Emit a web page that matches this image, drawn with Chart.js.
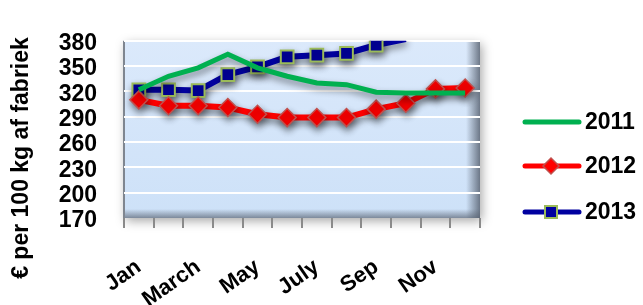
<!DOCTYPE html>
<html>
<head>
<meta charset="utf-8">
<script src="https://cdn.jsdelivr.net/npm/chart.js@4.4.1/dist/chart.umd.min.js"></script>
<style>
  html, body { margin: 0; padding: 0; background: #fff; }
  #wrap { width: 643px; height: 305px; position: relative; }
</style>
</head>
<body>
<div id="wrap"><canvas id="grafiek"></canvas></div>
<script>
// maanden en waarden (gelezen van de grafiek)
const maanden = ['Jan', 'Feb', 'March', 'April', 'May', 'June', 'July', 'Aug', 'Sep', 'Oct', 'Nov', 'Dec'];
const prijs2011 = [322, 338, 348, 364, 348, 338, 330, 328, 319, 318, 318, 318];
const prijs2012 = [310, 303, 303, 301, 293, 289, 289, 289, 299, 306, 323, 324];
const prijs2013 = [322, 322, 321, 340, 349, 361, 363, 365, 375, 382, null, null];
const yTicks = [170, 200, 230, 260, 290, 320, 350, 380];
const yTitel = '€ per 100 kg af fabriek';

const FONT = '"Liberation Sans", Arial, sans-serif';

// achtergrond van het plotvlak met schaduw en rand
const plotAchtergrond = {
    id: 'plotAchtergrond',
    beforeDraw(chart) {
        const { ctx, chartArea: a } = chart;
        const w = a.right - a.left, h = a.bottom - a.top;
        ctx.save();
        // schaduw rond het vlak
        ctx.shadowColor = 'rgba(0,0,0,0.35)';
        ctx.shadowBlur = 10;
        ctx.shadowOffsetX = 2;
        ctx.shadowOffsetY = 3;
        ctx.fillStyle = '#cfe2f8';
        ctx.fillRect(a.left, a.top, w, h);
        ctx.restore();

        ctx.save();
        let g = ctx.createLinearGradient(0, a.top, 0, a.bottom);
        g.addColorStop(0, '#dbe9fb');
        g.addColorStop(1, '#cde1f8');
        ctx.fillStyle = g;
        ctx.fillRect(a.left, a.top, w, h);

        // rechter rand (donker verloop)
        g = ctx.createLinearGradient(a.right - 14, 0, a.right, 0);
        g.addColorStop(0, 'rgba(90,100,115,0)');
        g.addColorStop(1, 'rgba(90,100,115,0.85)');
        ctx.fillStyle = g;
        ctx.fillRect(a.right - 14, a.top, 14, h);

        // onderrand
        g = ctx.createLinearGradient(0, a.bottom - 9, 0, a.bottom);
        g.addColorStop(0, 'rgba(90,100,115,0)');
        g.addColorStop(1, 'rgba(90,100,115,0.7)');
        ctx.fillStyle = g;
        ctx.fillRect(a.left, a.bottom - 9, w, 9);

        // linkerrand
        ctx.fillStyle = '#7f8690';
        ctx.fillRect(a.left - 1, a.top, 2, h + 1);
        ctx.restore();
    }
};

// schaduw onder de lijnen
const lijnSchaduw = {
    id: 'lijnSchaduw',
    beforeDatasetsDraw(chart) {
        const ctx = chart.ctx;
        ctx.save();
        ctx.shadowColor = 'rgba(0,0,0,0.45)';
        ctx.shadowBlur = 7;
        ctx.shadowOffsetX = 1;
        ctx.shadowOffsetY = 4;
    },
    afterDatasetsDraw(chart) {
        chart.ctx.restore();
    }
};

// as-titel en legenda
const tekstLagen = {
    id: 'tekstLagen',
    afterDraw(chart) {
        const ctx = chart.ctx;
        ctx.save();
        ctx.fillStyle = '#000';
        ctx.font = 'bold 23px ' + FONT;
        ctx.translate(22, 158);
        ctx.rotate(-Math.PI / 2);
        ctx.textAlign = 'center';
        ctx.textBaseline = 'middle';
        ctx.fillText(yTitel, 0, 0);
        ctx.restore();

        const rijen = [122, 166, 212];
        chart.data.datasets.forEach((ds, i) => {
            const y = rijen[i];
            ctx.save();
            ctx.strokeStyle = ds.borderColor;
            ctx.lineWidth = 5;
            ctx.lineCap = 'round';
            ctx.beginPath();
            ctx.moveTo(525, y);
            ctx.lineTo(579, y);
            ctx.stroke();
            if (ds.pointStyle === 'rectRot') {
                ctx.fillStyle = ds.pointBackgroundColor;
                ctx.strokeStyle = ds.pointBorderColor;
                ctx.lineWidth = 1.5;
                ctx.beginPath();
                ctx.moveTo(551, y - 8);
                ctx.lineTo(559, y);
                ctx.lineTo(551, y + 8);
                ctx.lineTo(543, y);
                ctx.closePath();
                ctx.fill();
                ctx.stroke();
            } else if (ds.pointStyle === 'rect') {
                ctx.fillStyle = ds.pointBackgroundColor;
                ctx.strokeStyle = ds.pointBorderColor;
                ctx.lineWidth = 2;
                ctx.fillRect(545, y - 6, 12, 12);
                ctx.strokeRect(545, y - 6, 12, 12);
            }
            ctx.fillStyle = '#000';
            ctx.font = 'bold 23px ' + FONT;
            ctx.textAlign = 'left';
            ctx.textBaseline = 'middle';
            ctx.fillText(ds.label, 585, y + 1);
            ctx.restore();
        });
    }
};

const grafiek = new Chart(document.getElementById('grafiek'), {
    type: 'line',
    data: {
        labels: maanden,
        datasets: [{
            label: '2011',
            data: prijs2011,
            borderColor: '#00b050',
            borderWidth: 5,
            pointRadius: 0,
            pointStyle: false,
            tension: 0,
            clip: 0
        }, {
            label: '2012',
            data: prijs2012,
            borderColor: '#ff0000',
            borderWidth: 6,
            pointStyle: 'rectRot',
            pointRadius: 9,
            pointBackgroundColor: '#ff0000',
            pointBorderColor: '#c0504d',
            pointBorderWidth: 1.5,
            tension: 0,
            clip: 0
        }, {
            label: '2013',
            data: prijs2013,
            borderColor: '#0000a0',
            borderWidth: 6,
            pointStyle: 'rect',
            pointRadius: (c) => (c.raw > 380 ? 0 : 9),
            pointBackgroundColor: '#0000a0',
            pointBorderColor: '#9bbb59',
            pointBorderWidth: 2,
            tension: 0,
            clip: 0
        }]
    },
    options: {
        responsive: true,
        maintainAspectRatio: false,
        animation: false,
        layout: {
            padding: { top: 22, right: 163, left: 0, bottom: 0 }
        },
        plugins: {
            legend: { display: false },
            tooltip: { enabled: false }
        },
        scales: {
            y: {
                min: 170,
                max: 380,
                afterFit: (s) => { s.width = 124; },
                afterBuildTicks: (s) => { s.ticks = yTicks.map(v => ({ value: v })); },
                border: { display: false },
                grid: {
                    color: (c) => (c.tick && c.tick.value === 170 ? 'rgba(0,0,0,0)' : '#ffffff'),
                    lineWidth: 2,
                    drawTicks: false
                },
                ticks: {
                    autoSkip: false,
                    padding: 27,
                    labelOffset: 3,
                    color: '#000',
                    font: { family: FONT, size: 23, weight: 'bold' }
                }
            },
            x: {
                offset: true,
                afterFit: (s) => { s.height = 87; },
                border: { display: false },
                grid: {
                    offset: true,
                    drawOnChartArea: false,
                    color: '#8a8a8a',
                    lineWidth: 2,
                    tickLength: 10
                },
                ticks: {
                    autoSkip: false,
                    minRotation: 35,
                    maxRotation: 35,
                    padding: 26,
                    color: '#000',
                    font: { family: FONT, size: 22, weight: 'bold' },
                    callback: (v, i) => (i % 2 === 0 ? maanden[i] : '')
                }
            }
        }
    },
    plugins: [plotAchtergrond, lijnSchaduw, tekstLagen]
});
</script>
</body>
</html>
